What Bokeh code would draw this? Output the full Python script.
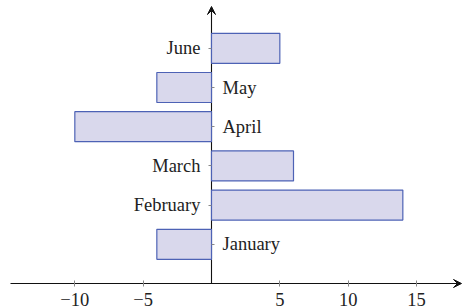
from bokeh.plotting import figure
from bokeh.models import LinearAxis, FixedTicker, Range1d, Arrow, VeeHead
from bokeh.embed import file_html
from bokeh.resources import INLINE

months = ["January", "February", "March", "April", "May", "June"]
values = [-4, 14, 6, -10, -4, 5]
x_ticks = [-10, -5, 5, 10, 15]
x_tick_labels = ["\u221210", "\u22125", "5", "10", "15"]

positions = list(range(1, len(months) + 1))

W, H = 462, 308
sx, sy = 13.667, 39.2          # pixels per data unit
ox, oy = 211, 283              # origin in canvas pixels
x_lo = -ox / sx
x_hi = x_lo + W / sx
y_hi = oy / sy
y_lo = y_hi - H / sy

p = figure(width=W, height=H, x_range=Range1d(x_lo, x_hi), y_range=Range1d(y_lo, y_hi),
           x_axis_type=None, y_axis_type=None, output_backend="svg",
           toolbar_location=None, min_border=0)
p.outline_line_color = None
p.background_fill_color = "white"

# axis lines with arrows (under the bars)
p.add_layout(Arrow(x_start=(10 - ox) / sx, y_start=0, x_end=(461 - ox) / sx, y_end=0,
                   end=VeeHead(size=8, fill_color="#111", line_color="#111", line_width=1),
                   line_color="#111", line_width=1.1, level="underlay"))
p.add_layout(Arrow(x_start=0, y_start=0, x_end=0, y_end=(oy - 6) / sy,
                   end=VeeHead(size=8, fill_color="#111", line_color="#111", line_width=1),
                   line_color="#111", line_width=1.1, level="underlay"))

p.hbar(y=positions, left=0, right=values, height=0.765,
       fill_color="#d9d8ec", line_color="#4d62b5", line_width=1.2)

font = "Liberation Serif"
fs = "18.5px"

xa = LinearAxis(fixed_location=0, ticker=FixedTicker(ticks=x_ticks),
                major_label_overrides=dict(zip(x_ticks, x_tick_labels)),
                axis_line_color=None, major_tick_in=3, major_tick_out=3,
                minor_tick_line_color=None, major_tick_line_color="#888",
                major_label_text_font=font, major_label_text_font_size=fs,
                major_label_text_color="#222", major_label_standoff=6)
p.add_layout(xa, "below")

left_ticks = [q for q, v in zip(positions, values) if v > 0]
right_ticks = [q for q, v in zip(positions, values) if v < 0]
labels = dict(zip(positions, months))

ya_l = LinearAxis(fixed_location=0, ticker=FixedTicker(ticks=left_ticks),
                  major_label_overrides={k: labels[k] for k in left_ticks},
                  axis_line_color=None, major_tick_in=0, major_tick_out=3,
                  minor_tick_line_color=None, major_tick_line_color="#888",
                  major_label_text_font=font, major_label_text_font_size=fs,
                  major_label_text_color="#222", major_label_standoff=8)
p.add_layout(ya_l, "left")

ya_r = LinearAxis(fixed_location=0, ticker=FixedTicker(ticks=right_ticks),
                  major_label_overrides={k: labels[k] for k in right_ticks},
                  axis_line_color=None, major_tick_in=0, major_tick_out=3,
                  minor_tick_line_color=None, major_tick_line_color="#888",
                  major_label_text_font=font, major_label_text_font_size=fs,
                  major_label_text_color="#222", major_label_standoff=8)
p.add_layout(ya_r, "right")

open("out.html", "w").write(file_html(p, INLINE))
